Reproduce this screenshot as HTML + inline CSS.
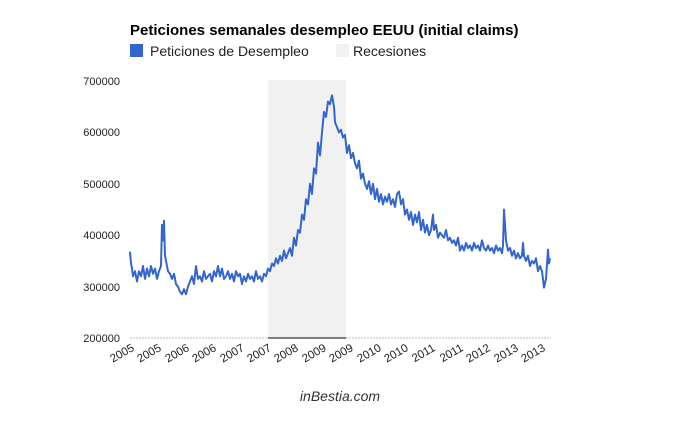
<!DOCTYPE html>
<html><head><meta charset="utf-8"><style>
body{margin:0;background:#fff;width:680px;height:420px;overflow:hidden;font-family:"Liberation Sans",Arial,sans-serif}
</style></head><body>
<svg width="680" height="420" xmlns="http://www.w3.org/2000/svg" font-family="Liberation Sans, Arial, sans-serif">
<text x="130" y="35" font-size="15" font-weight="bold" fill="#000">Peticiones semanales desempleo EEUU (initial claims)</text>
<rect x="130" y="44" width="13" height="13" fill="#3366cc"/>
<text x="150" y="56" font-size="14" fill="#222">Peticiones de Desempleo</text>
<rect x="336" y="44" width="13" height="13" fill="#f1f1f1"/>
<text x="353" y="56" font-size="14" fill="#222">Recesiones</text>
<rect x="268" y="80" width="78" height="258" fill="#f1f1f1"/>
<line x1="130" y1="338" x2="551" y2="338" stroke="#bbb" stroke-dasharray="2,1"/>
<line x1="268" y1="338" x2="346" y2="338" stroke="#555" stroke-width="1.5"/>
<g font-size="11" fill="#222" text-anchor="end">
<text x="120" y="85">700000</text><text x="120" y="136">600000</text><text x="120" y="188">500000</text>
<text x="120" y="239">400000</text><text x="120" y="291">300000</text><text x="120" y="342">200000</text>
</g>
<g font-size="11.5" fill="#222" text-anchor="end">
<text transform="translate(135,350) rotate(-30)">2005</text>
<text transform="translate(162,350) rotate(-30)">2005</text>
<text transform="translate(190,350) rotate(-30)">2006</text>
<text transform="translate(217,350) rotate(-30)">2006</text>
<text transform="translate(245,350) rotate(-30)">2007</text>
<text transform="translate(272,350) rotate(-30)">2007</text>
<text transform="translate(299,350) rotate(-30)">2008</text>
<text transform="translate(327,350) rotate(-30)">2009</text>
<text transform="translate(354,350) rotate(-30)">2009</text>
<text transform="translate(382,350) rotate(-30)">2010</text>
<text transform="translate(409,350) rotate(-30)">2010</text>
<text transform="translate(436,350) rotate(-30)">2011</text>
<text transform="translate(464,350) rotate(-30)">2011</text>
<text transform="translate(491,350) rotate(-30)">2012</text>
<text transform="translate(519,350) rotate(-30)">2013</text>
<text transform="translate(546,350) rotate(-30)">2013</text>
</g>
<g transform="translate(0,338) scale(1,-0.514) translate(0,-200)">
<polyline fill="none" stroke="#3366cc" stroke-width="2" vector-effect="non-scaling-stroke" stroke-linejoin="round" points="
130,368 131,345 132,335 133,320 135,330 137,310 139,330 141,320 143,340 145,315 147,335 149,320 151,340 153,325 155,335 157,315 159,330 161,340 162,420 163,390 164,428 165,360 166,350 168,330 170,325 172,315 174,325 176,305 178,300 180,290 182,285 184,295 186,285 188,300 190,310 192,320 194,305 196,340 198,315 200,320 202,310 204,330 206,315 208,320 210,325 212,310 214,330 216,320 218,340 220,320 222,335 224,315 226,320 228,330 230,315 232,325 234,310 236,330 238,320 240,325 242,305 244,320 246,310 248,325 250,315 252,320 254,310 256,330 258,315 260,320 262,310 264,325 266,320 268,335 270,330 272,345 274,340 276,355 278,345 280,360 282,350 284,370 286,355 288,365 290,375 292,360 294,395 296,380 298,410 300,405 302,440 304,430 306,470 308,460 310,500 312,480 314,530 316,520 318,580 320,555 322,600 324,640 326,630 328,660 330,655 332,672 334,650 335,620 337,610 339,600 341,605 343,590 345,595 347,560 349,575 351,550 353,560 355,540 357,530 359,545 361,510 363,520 365,500 367,490 369,505 371,480 373,500 375,470 377,490 379,465 381,480 383,460 385,475 387,465 389,480 391,460 393,470 395,455 397,480 399,485 401,460 403,470 405,440 407,450 409,430 411,445 413,420 415,440 417,425 419,445 421,410 423,430 425,405 427,420 429,400 431,410 433,440 434,410 436,420 438,395 440,405 442,400 444,395 446,410 448,390 450,395 452,385 454,390 456,380 458,395 460,370 462,380 464,370 466,385 468,375 470,380 472,370 474,385 476,375 478,380 480,370 482,390 484,375 486,370 488,380 490,370 492,375 494,365 496,380 498,370 500,375 502,365 503,380 504,450 505,420 506,390 508,370 510,375 512,360 514,370 516,355 518,365 520,355 522,360 523,385 524,360 526,350 528,360 530,340 532,350 534,345 536,355 538,330 540,340 542,330 544,298 546,315 548,372 549,345 550,355"/>
</g>
<text x="340" y="401" font-size="14" font-style="italic" fill="#333" text-anchor="middle">inBestia.com</text>
</svg>
</body></html>
